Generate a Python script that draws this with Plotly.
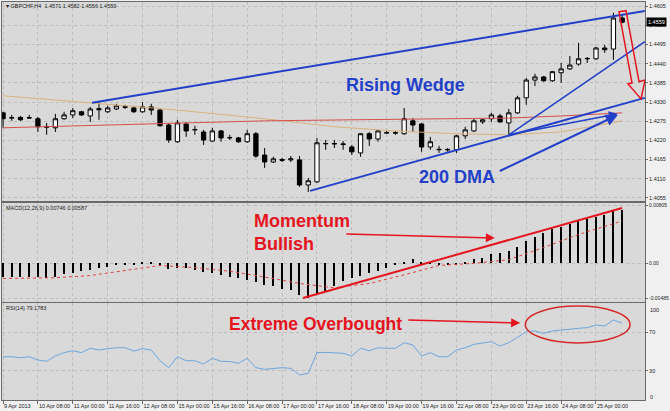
import plotly.graph_objects as go

# ---------------- data ----------------
idx = list(range(72))
O = [1.4299,1.4284,1.4286,1.4284,1.4282,1.4260,1.4256,1.4282,1.4293,1.4302,
     1.4290,1.4311,1.4302,1.4310,1.4317,1.4313,1.4302,1.4316,1.4307,1.4264,
     1.4216,1.4267,1.4250,1.4244,1.4218,1.4247,1.4227,1.4227,1.4216,1.4239,
     1.4178,1.4158,1.4165,1.4164,1.4164,1.4092,1.4101,1.4210,1.4211,1.4210,
     1.4201,1.4184,1.4239,1.4224,1.4241,1.4242,1.4239,1.4276,1.4267,1.4201,
     1.4193,1.4194,1.4193,1.4233,1.4247,1.4273,1.4282,1.4290,1.4270,1.4299,
     1.4342,1.4393,1.4402,1.4391,1.4414,1.4425,1.4439,1.4454,1.4454,1.4485,
     1.4482,1.4571]
H = [1.4302,1.4293,1.4290,1.4293,1.4287,1.4270,1.4296,1.4302,1.4313,1.4305,
     1.4316,1.4330,1.4319,1.4325,1.4322,1.4319,1.4330,1.4325,1.4313,1.4270,
     1.4279,1.4273,1.4262,1.4250,1.4256,1.4250,1.4236,1.4230,1.4250,1.4244,
     1.4198,1.4173,1.4170,1.4175,1.4175,1.4112,1.4227,1.4221,1.4221,1.4218,
     1.4207,1.4241,1.4244,1.4250,1.4247,1.4247,1.4313,1.4284,1.4270,1.4230,
     1.4204,1.4198,1.4236,1.4259,1.4282,1.4282,1.4299,1.4296,1.4310,1.4348,
     1.4399,1.4411,1.4405,1.4419,1.4442,1.4462,1.4500,1.4459,1.4488,1.4494,
     1.4586,1.4582]
L = [1.4256,1.4276,1.4276,1.4282,1.4244,1.4236,1.4244,1.4279,1.4284,1.4290,
     1.4273,1.4279,1.4299,1.4307,1.4310,1.4299,1.4299,1.4293,1.4259,1.4213,
     1.4213,1.4230,1.4236,1.4207,1.4216,1.4216,1.4221,1.4213,1.4213,1.4170,
     1.4141,1.4155,1.4158,1.4158,1.4087,1.4072,1.4098,1.4193,1.4198,1.4193,
     1.4178,1.4173,1.4204,1.4216,1.4239,1.4236,1.4236,1.4244,1.4187,1.4193,
     1.4184,1.4187,1.4184,1.4224,1.4244,1.4267,1.4273,1.4270,1.4236,1.4296,
     1.4322,1.4376,1.4388,1.4388,1.4385,1.4422,1.4434,1.4442,1.4451,1.4471,
     1.4451,1.4556]
C = [1.4282,1.4285,1.4279,1.4285,1.4259,1.4258,1.4282,1.4293,1.4305,1.4293,
     1.4310,1.4308,1.4313,1.4319,1.4315,1.4302,1.4316,1.4307,1.4262,1.4221,
     1.4270,1.4247,1.4251,1.4221,1.4247,1.4227,1.4228,1.4216,1.4239,1.4175,
     1.4158,1.4167,1.4163,1.4167,1.4092,1.4104,1.4213,1.4211,1.4210,1.4208,
     1.4187,1.4239,1.4224,1.4247,1.4242,1.4241,1.4282,1.4264,1.4201,1.4216,
     1.4194,1.4193,1.4233,1.4250,1.4276,1.4279,1.4293,1.4273,1.4299,1.4342,
     1.4393,1.4402,1.4391,1.4417,1.4425,1.4436,1.4454,1.4455,1.4485,1.4480,
     1.4571,1.4559]

ma_red_x = [0, 10, 20, 30, 40, 50, 58, 64, 71]
ma_red_y = [1.4256, 1.4262, 1.4270, 1.4276, 1.4279, 1.4282, 1.4284, 1.4290, 1.4299]
ma_tan_x = [0, 10, 20, 30, 38, 45, 52, 58, 64, 71]
ma_tan_y = [1.4348, 1.4328, 1.4307, 1.4282, 1.4259, 1.4247, 1.4239, 1.4236, 1.4244, 1.4276]

macd = [-0.0019,-0.0019,-0.0019,-0.0019,-0.0019,-0.0020,-0.0019,-0.0015,-0.0013,-0.0011,
        -0.0009,-0.0007,-0.0005,-0.0003,-0.0001,-0.0001,0.00005,0.0001,-0.0001,-0.0008,
        -0.0007,-0.0007,-0.0009,-0.0012,-0.0014,-0.0016,-0.0019,-0.0021,-0.0023,-0.0026,
        -0.0030,-0.0032,-0.0035,-0.0037,-0.0044,-0.0048,-0.0044,-0.0039,-0.0031,-0.0025,
        -0.0020,-0.0017,-0.0014,-0.0011,-0.0006,-0.0003,0.0002,0.0006,0.0002,0.0001,
        -0.0001,-0.0003,-0.0001,0.0001,0.0006,0.0008,0.0013,0.0014,0.0017,0.0023,
        0.0031,0.0037,0.0042,0.0047,0.0051,0.0055,0.0059,0.0061,0.0064,0.0067,
        0.0073,0.00746]
sig_x = [0, 6, 10, 14, 18, 22, 26, 30, 34, 38, 42, 46, 50, 54, 58, 62, 66, 71]
sig_y = [-0.0021, -0.0020, -0.0017, -0.0010, -0.0003, -0.0006, -0.0011, -0.0019, -0.0028,
         -0.0034, -0.0028, -0.0016, -0.0003, 0.0000, 0.0005, 0.0022, 0.0040, 0.00587]

rsi = [44.6,44.6,43.6,44.6,41.2,39.9,45.4,48.8,50.8,48.8,
       53.3,51.5,52.9,53.9,53.9,50.5,52.9,51.5,40.5,33.3,
       44.6,40.5,40.5,37.1,43.0,39.9,39.6,37.8,43.0,33.3,
       31.6,32.6,33.3,32.6,25.8,27.5,48.8,49.1,48.8,48.1,
       45.4,53.3,50.8,53.9,53.3,53.3,59.1,56.7,45.4,48.8,
       44.6,44.6,51.5,53.9,57.4,58.4,60.1,55.7,59.1,64.6,
       70.4,71.1,68.7,71.1,72.2,72.8,73.9,74.6,77.3,76.3,
       82.5,79.18]

x_tick_idx = list(range(0, 72, 4))
x_tick_lab = ["9 Apr 2013", "10 Apr 08:00", "11 Apr 00:00", "11 Apr 16:00", "12 Apr 08:00",
              "15 Apr 00:00", "15 Apr 16:00", "16 Apr 08:00", "17 Apr 00:00", "17 Apr 16:00",
              "18 Apr 08:00", "19 Apr 00:00", "19 Apr 16:00", "22 Apr 08:00", "23 Apr 00:00",
              "23 Apr 16:00", "24 Apr 08:00", "25 Apr 00:00"]
price_ticks = [1.4055, 1.4110, 1.4165, 1.4220, 1.4275, 1.4330, 1.4385, 1.4440, 1.4495, 1.4550, 1.4605]
macd_ticks = [0.00805, 0.0, -0.00485]
macd_tick_lab = ["0.00805", "0.00", "-0.00485"]
rsi_ticks = [30, 70]

# ---------------- figure ----------------
W, HH = 670, 411
def py(px):
    return 1 - px / HH

BG = "#d9d9d9"
GRID = "#bdbdbd"
FRAME = "#6a6a6a"
TXT = "#222222"
FONT = "Liberation Sans"
BLUE = "#2340c8"
RED = "#e5141e"

fig = go.Figure()

fig.add_trace(go.Scatter(x=ma_tan_x, y=ma_tan_y, mode="lines", line=dict(color="#d9b27e", width=1),
                         xaxis="x", yaxis="y", hoverinfo="skip", showlegend=False))
fig.add_trace(go.Scatter(x=ma_red_x, y=ma_red_y, mode="lines", line=dict(color="#d6504c", width=1),
                         xaxis="x", yaxis="y", hoverinfo="skip", showlegend=False))
fig.add_trace(go.Candlestick(x=idx, open=O, high=H, low=L, close=C, xaxis="x", yaxis="y",
                             increasing=dict(line=dict(color="black", width=1), fillcolor="white"),
                             decreasing=dict(line=dict(color="black", width=1), fillcolor="black"),
                             whiskerwidth=0, showlegend=False, hoverinfo="skip"))

fig.add_trace(go.Bar(x=idx, y=macd, width=0.17, marker=dict(color="black", line=dict(width=0)),
                     xaxis="x2", yaxis="y2", hoverinfo="skip", showlegend=False))
fig.add_trace(go.Scatter(x=sig_x, y=sig_y, mode="lines", line=dict(color="#e04040", width=1, dash="dot"),
                         xaxis="x2", yaxis="y2", hoverinfo="skip", showlegend=False))

fig.add_trace(go.Scatter(x=idx, y=rsi, mode="lines", line=dict(color="#6da6dc", width=1),
                         xaxis="x3", yaxis="y3", hoverinfo="skip", showlegend=False))

xr = [-0.12, 73.62]
xdom = [2 / W, 645 / W]
common_x = dict(range=xr, domain=xdom, tickvals=x_tick_idx, showgrid=True, gridcolor=GRID,
                griddash="dot", gridwidth=1, zeroline=False, showline=True, mirror=True,
                linecolor=FRAME, linewidth=1, fixedrange=True, automargin=False, tickangle=0)
common_y = dict(side="right", showgrid=True, gridcolor=GRID, griddash="dot", gridwidth=1,
                zeroline=False, showline=True, mirror=True, linecolor=FRAME, linewidth=1,
                ticks="outside", ticklen=2, tickcolor=FRAME, fixedrange=True, automargin=False,
                tickfont=dict(family=FONT, size=5.5, color=TXT))

fig.update_layout(
    width=W, height=HH,
    margin=dict(l=0, r=0, t=0, b=0, autoexpand=False),
    paper_bgcolor="#f0f0f0", plot_bgcolor=BG,
    showlegend=False,
    xaxis=dict(common_x, anchor="y", showticklabels=False, rangeslider=dict(visible=False)),
    xaxis2=dict(common_x, anchor="y2", showticklabels=False, matches="x"),
    xaxis3=dict(common_x, anchor="y3", showticklabels=True, matches="x",
                ticktext=x_tick_lab, ticklabelposition="outside right",
                ticks="outside", ticklen=3, tickcolor=FRAME,
                tickfont=dict(family=FONT, size=5.5, color=TXT)),
    yaxis=dict(common_y, anchor="x", domain=[py(201), py(2)], range=[1.4046, 1.4617],
               tickvals=price_ticks, ticktext=[f"{v:.4f}" for v in price_ticks]),
    yaxis2=dict(common_y, anchor="x2", domain=[py(302), py(203)], range=[-0.00537, 0.00837],
                tickvals=macd_ticks, ticktext=macd_tick_lab,
                tickfont=dict(family=FONT, size=5, color=TXT)),
    yaxis3=dict(common_y, anchor="x3", domain=[py(400), py(303)], range=[0, 100],
                tickvals=rsi_ticks, ticktext=[str(v) for v in rsi_ticks]),
    bargap=0,
)

# ---------------- drawings ----------------
shapes = []
shapes.append(dict(type="line", xref="x", yref="y", x0=10.2, y0=1.4328, x1=73.6, y1=1.4591,
                   line=dict(color=BLUE, width=2)))
shapes.append(dict(type="line", xref="x", yref="y", x0=35.2, y0=1.4075, x1=73.6, y1=1.4342,
                   line=dict(color=BLUE, width=2)))
shapes.append(dict(type="line", xref="x", yref="y", x0=58.0, y0=1.4236, x1=73.6, y1=1.4503,
                   line=dict(color=BLUE, width=1.5)))
arr_x = [70.64, 71.44, 72.94, 73.62, 73.17, 71.67, 72.13]
arr_y = [1.4589, 1.4592, 1.4388, 1.4393, 1.4339, 1.4382, 1.4385]
path = "M " + " L ".join(f"{a},{b}" for a, b in zip(arr_x, arr_y)) + " Z"
shapes.append(dict(type="path", xref="x", yref="y", path=path, line=dict(color=RED, width=1.5),
                   fillcolor="rgba(0,0,0,0)"))
shapes.append(dict(type="line", xref="x2", yref="y2", x0=34.4, y0=-0.00482, x1=71.0, y1=0.00768,
                   line=dict(color=RED, width=2)))
shapes.append(dict(type="circle", xref="x3", yref="y3", x0=59.9, x1=71.9, y0=58.8, y1=96.9,
                   line=dict(color="#d42a2a", width=1.5)))
fig.update_layout(shapes=shapes)

ann = []
ann.append(dict(xref="paper", yref="paper", x=4 / W, y=py(6), xanchor="left", yanchor="middle",
                text="▾ GBPCHF,H4  1.4571 1.4582 1.4556 1.4559", showarrow=False,
                font=dict(family=FONT, size=5.5, color=TXT)))
ann.append(dict(xref="paper", yref="paper", x=4 / W, y=py(208), xanchor="left", yanchor="middle",
                text="MACD(12,26,9) 0.00746 0.00587", showarrow=False,
                font=dict(family=FONT, size=5.5, color=TXT)))
ann.append(dict(xref="paper", yref="paper", x=4 / W, y=py(308), xanchor="left", yanchor="middle",
                text="RSI(14) 79.1783", showarrow=False,
                font=dict(family=FONT, size=5.5, color=TXT)))
for t, ypx in (("100", 310), ("0", 397)):
    ann.append(dict(xref="paper", yref="paper", x=648 / W, y=py(ypx), xanchor="left", yanchor="middle",
                    text=t, showarrow=False, font=dict(family=FONT, size=5.5, color=TXT)))
ann.append(dict(xref="paper", yref="y", x=646 / W, y=1.4560, xanchor="left", yanchor="middle",
                text="1.4559", showarrow=False, bgcolor="black", borderpad=1,
                font=dict(family=FONT, size=5.5, color="white")))
ann.append(dict(xref="x", yref="y", x=46.1, y=1.4379, text="<b>Rising Wedge</b>", showarrow=False,
                font=dict(family=FONT, size=18, color=BLUE)))
ann.append(dict(xref="x", yref="y", x=52.06, y=1.4115, text="<b>200 DMA</b>", showarrow=False,
                font=dict(family=FONT, size=18, color=BLUE)))
ann.append(dict(xref="x2", yref="y2", x=28.55, y=0.00434, xanchor="left", yanchor="middle", align="left",
                text="<b>Momentum</b><br><b>Bullish</b>", showarrow=False,
                font=dict(family=FONT, size=18, color=RED)))
ann.append(dict(xref="x3", yref="y3", x=35.78, y=78.4, text="<b>Extreme Overbought</b>", showarrow=False,
                font=dict(family=FONT, size=17.5, color=RED)))
ann.append(dict(xref="x", yref="y", axref="x", ayref="y", x=70.5, y=1.4296, ax=58.0, ay=1.4236,
                text="", showarrow=True, arrowhead=2, arrowsize=1.2, arrowwidth=1.5, arrowcolor=BLUE))
ann.append(dict(xref="x", yref="y", axref="x", ayref="y", x=70.5, y=1.4293, ax=56.8, ay=1.4130,
                text="", showarrow=True, arrowhead=2, arrowsize=1.2, arrowwidth=2, arrowcolor=BLUE))
ann.append(dict(xref="x2", yref="y2", axref="x2", ayref="y2", x=56.4, y=0.00351, ax=39.2, ay=0.00407,
                text="", showarrow=True, arrowhead=2, arrowsize=1.2, arrowwidth=1.5, arrowcolor=RED))
ann.append(dict(xref="x3", yref="y3", axref="x3", ayref="y3", x=59.3, y=79.4, ax=46.3, ay=82.5,
                text="", showarrow=True, arrowhead=2, arrowsize=1.2, arrowwidth=1.5, arrowcolor=RED))
fig.update_layout(annotations=ann)

fig.write_html("out.html", config={"displayModeBar": False},
               post_script="document.body.style.margin='0px';document.body.style.padding='0px';")
